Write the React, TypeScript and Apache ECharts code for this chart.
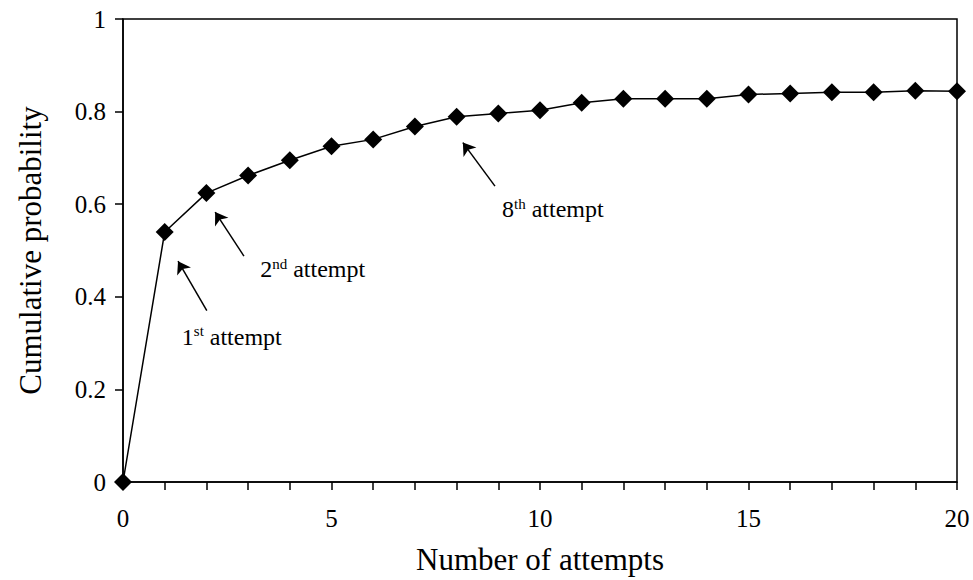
import React, { useEffect, useRef } from "react";
import * as echarts from "echarts";

const attempts = [0, 1, 2, 3, 4, 5, 6, 7, 8, 9, 10, 11, 12, 13, 14, 15, 16, 17, 18, 19, 20];
const cumulativeProbability = [
  0, 0.54, 0.624, 0.662, 0.695, 0.725, 0.74, 0.768, 0.789, 0.796, 0.803,
  0.819, 0.828, 0.828, 0.828, 0.837, 0.839, 0.842, 0.842, 0.845, 0.844,
];
const yTicks = [0, 0.2, 0.4, 0.6, 0.8, 1];

const annotationNumbers = ["1", "2", "8"];
const annotationSuffixes = ["st", "nd", "th"];
const labelAnchors: [number, number][] = [
  [1.41, 0.314],
  [3.29, 0.46],
  [9.09, 0.589],
];
const arrowTails: [number, number][] = [
  [2.01, 0.37],
  [2.9, 0.488],
  [8.92, 0.639],
];
const arrowHeads: [number, number][] = [
  [1.32, 0.477],
  [2.21, 0.583],
  [8.15, 0.733],
];

const FONT = "'Liberation Serif', 'Times New Roman', serif";

export default function App() {
  const ref = useRef<HTMLDivElement>(null);
  useEffect(() => {
    if (!ref.current) return;
    const chart = echarts.init(ref.current, null, { renderer: "svg" });
    const data = attempts.map((a, i) => [a, cumulativeProbability[i]]);
    chart.setOption({
      animation: false,
      backgroundColor: "#fff",
      grid: {
        left: 123,
        right: 16,
        top: 19,
        bottom: 96,
        show: true,
        borderColor: "#000",
        borderWidth: 1.5,
        backgroundColor: "transparent",
      },
      xAxis: {
        type: "value",
        min: 0,
        max: 20,
        interval: 1,
        name: "Number of attempts",
        nameLocation: "middle",
        nameGap: 62,
        nameTextStyle: { fontFamily: FONT, fontSize: 31, color: "#000" },
        axisLine: { show: true, lineStyle: { color: "#000", width: 1.5 } },
        axisTick: { show: true, inside: false, length: 8, lineStyle: { color: "#000", width: 1.5 } },
        axisLabel: {
          fontFamily: FONT,
          fontSize: 25,
          color: "#000",
          margin: 24,
          formatter: (v: number) => (v % 5 === 0 ? String(v) : ""),
        },
        splitLine: { show: false },
      },
      yAxis: {
        type: "value",
        min: 0,
        max: 1,
        interval: 0.2,
        name: "Cumulative probability",
        nameLocation: "middle",
        nameGap: 77,
        nameRotate: 90,
        nameTextStyle: { fontFamily: FONT, fontSize: 31, color: "#000" },
        axisLine: { show: true, lineStyle: { color: "#000", width: 1.5 } },
        axisTick: { show: true, inside: false, length: 8, lineStyle: { color: "#000", width: 1.5 } },
        axisLabel: {
          fontFamily: FONT,
          fontSize: 25,
          color: "#000",
          margin: 17,
          formatter: (v: number) => {
            const t = yTicks.find((y) => Math.abs(y - v) < 1e-9);
            return t === undefined ? "" : String(t);
          },
        },
        splitLine: { show: false },
      },
      series: [
        {
          type: "line",
          data,
          symbol: "diamond",
          symbolSize: 18,
          itemStyle: { color: "#000" },
          lineStyle: { color: "#000", width: 1.5 },
          clip: false,
          markLine: {
            silent: true,
            symbol: ["none", "arrow"],
            symbolSize: 12,
            label: { show: false },
            lineStyle: { color: "#000", width: 1.5, type: "solid" },
            data: arrowTails.map((t, i) => [{ coord: t }, { coord: arrowHeads[i] }]),
          },
          markPoint: {
            silent: true,
            symbol: "circle",
            symbolSize: 0,
            itemStyle: { color: "transparent" },
            data: labelAnchors.map((c, i) => ({
              coord: c,
              label: {
                show: true,
                position: [0, 0],
                align: "left",
                verticalAlign: "middle",
                formatter: `{n|${annotationNumbers[i]}}{s|${annotationSuffixes[i]}}{n| attempt}`,
                rich: {
                  n: { fontFamily: FONT, fontSize: 24, color: "#000", lineHeight: 26 },
                  s: { fontFamily: FONT, fontSize: 15, color: "#000", verticalAlign: "top", lineHeight: 18 },
                },
              },
            })),
          },
        },
      ],
    });
    return () => chart.dispose();
  }, []);
  return (
    <div
      ref={ref}
      style={{ position: "fixed", left: 0, top: 0, width: 973, height: 580, overflow: "hidden" }}
    />
  );
}
